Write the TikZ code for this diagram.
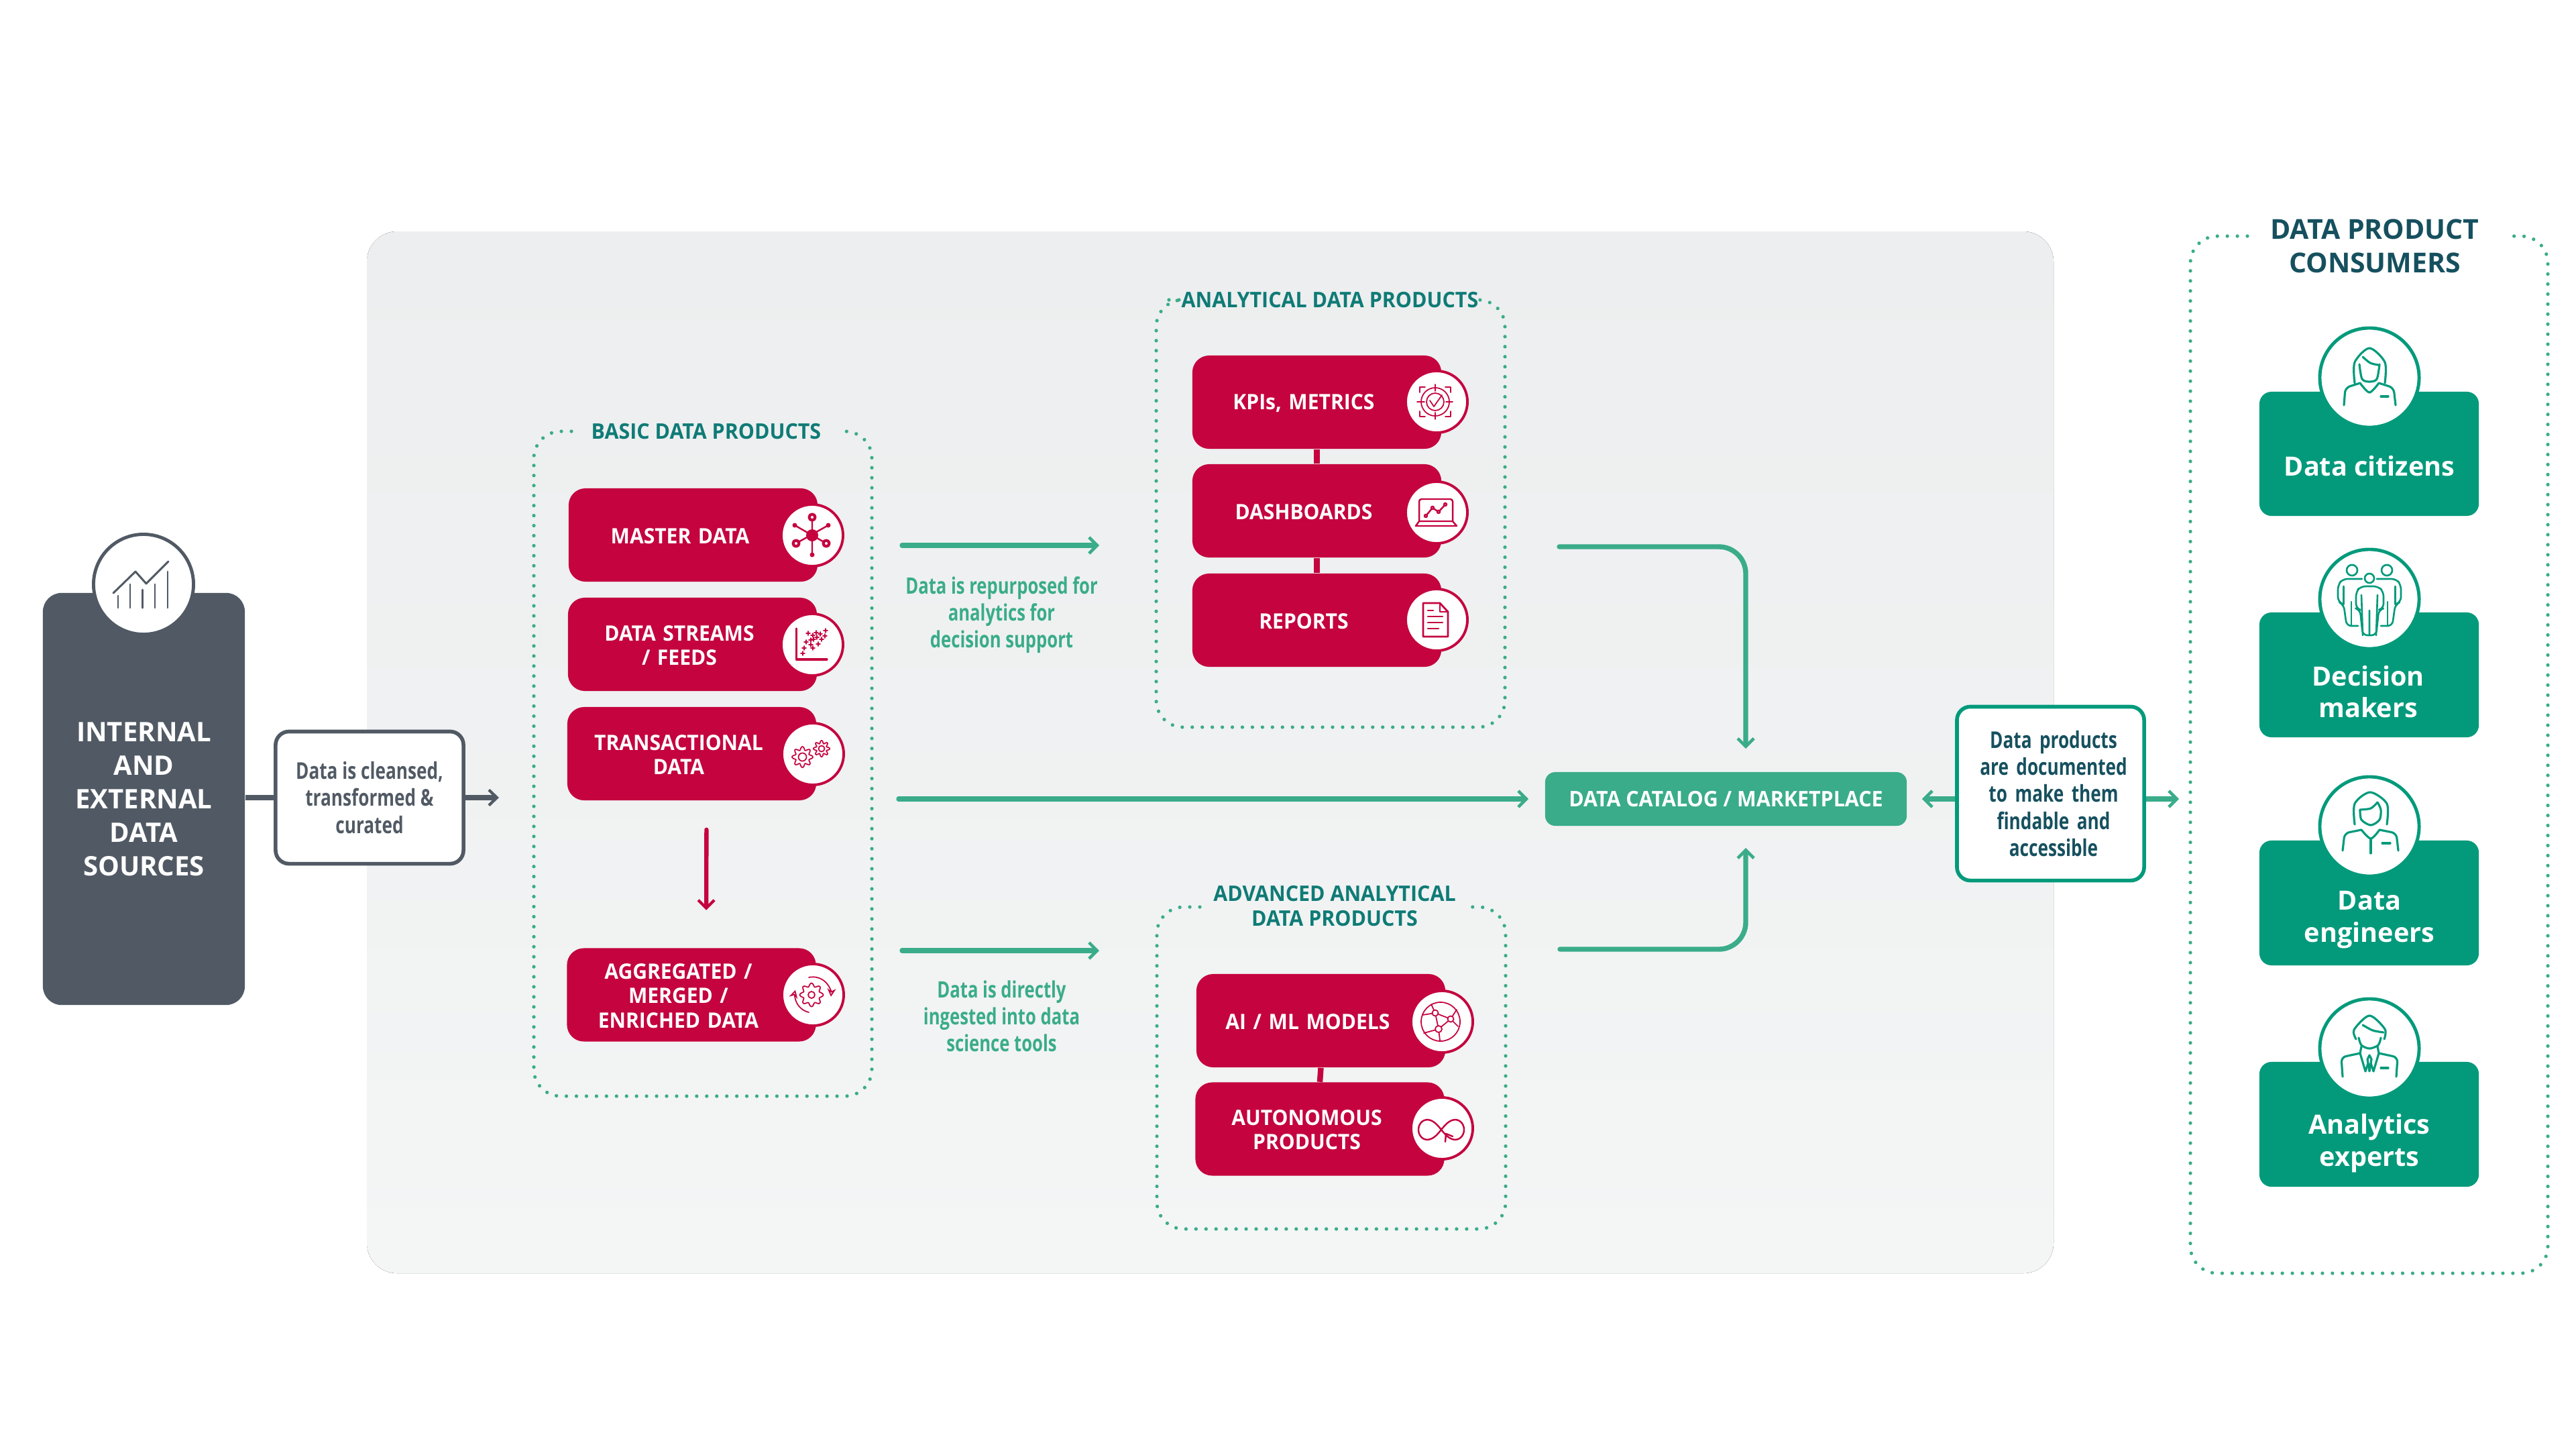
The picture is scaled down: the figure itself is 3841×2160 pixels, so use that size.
\documentclass[tikz,border=0pt]{standalone}
\usepackage{fontspec}
\setmainfont{Open Sans}
\newfontfamily\condfont{Open Sans}[FakeStretch=0.76]
\newfontfamily\capsfont{Open Sans}[FakeStretch=0.95]
\usetikzlibrary{arrows.meta, positioning, calc}

\definecolor{slategray}{HTML}{515A64}
\definecolor{productred}{HTML}{C4033F}
\definecolor{flowgreen}{HTML}{3AAC8A}
\definecolor{usergreen}{HTML}{029A7B}
\definecolor{titleteal}{HTML}{0F7B76}
\definecolor{deepteal}{HTML}{16505F}
\definecolor{panelgray}{HTML}{ECEEEF}
\definecolor{panellight}{HTML}{F4F5F5}

\tikzset{
  frameline/.style={draw=flowgreen, line width=1.5pt, line cap=round, dash pattern=on 0pt off 4.25pt, rounded corners=0.4cm},
  grouptitle/.style={text=titleteal, align=center, font=\capsfont\bfseries\fontsize{9.1}{10.5}\selectfont},
  productcard/.style={fill=productred, rounded corners=0.25cm, minimum height=1.39cm, text width=3.71cm, inner xsep=0pt, align=center, text=white,
    font=\capsfont\bfseries\fontsize{9}{10.3}\selectfont, execute at begin node={\advance\rightskip by 0.39cm\rule{0pt}{7.4pt}}},
  redbadge/.style={circle, draw=productred, fill=white, line width=1.1pt, minimum size=0.92cm, inner sep=0pt},
  userbadge/.style={circle, draw=usergreen, fill=white, line width=1.4pt, minimum size=1.48cm, inner sep=0pt},
  usercard/.style={fill=usergreen, rounded corners=0.18cm, minimum width=3.27cm},
  usertext/.style={text=white, align=center, font=\bfseries\fontsize{11.25}{13.5}\selectfont},
  notebox/.style={fill=white, line width=1.6pt, rounded corners=0.2cm, align=center, font=\condfont\bfseries\fontsize{9.8}{11.4}\selectfont},
  notetext/.style={text=flowgreen, align=center, font=\condfont\bfseries\fontsize{9.6}{11.4}\selectfont},
  flowarrow/.style={draw=flowgreen, line width=2.1pt, -{Straight Barb[length=0.12cm, width=0.24cm, line width=1.3pt]}},
  grayarrow/.style={draw=slategray, line width=2.1pt},
  redicon/.style={draw=productred, line width=0.7pt, line cap=round, line join=round},
  usericon/.style={draw=usergreen, line width=0.9pt, line cap=round, line join=round}
}

\begin{document}
\begin{tikzpicture}[x=0.01cm, y=-0.01cm]
  \useasboundingbox (0,0) rectangle (3841,2160);
  \fill[top color=panelgray, bottom color=panellight, rounded corners=0.45cm] (547,345) rectangle (3062,1898);

  % Group frames
  \draw[frameline] (852,643) -- (796,643) -- (796,1634) -- (1300,1634) -- (1300,643) -- (1248,643);
  \draw[frameline] (1743,447) -- (1724,447) -- (1724,1084) -- (2244,1084) -- (2244,447) -- (2213,447);
  \draw[frameline] (1789,1352) -- (1725,1352) -- (1725,1832) -- (2245,1832) -- (2245,1352) -- (2185,1352);
  \draw[frameline] (3351,352) -- (3266,352) -- (3266,1898) -- (3799,1898) -- (3799,352) -- (3739,352);
  \node[grouptitle] (basicTitle) at (1053,643) {BASIC DATA PRODUCTS};
  \node[grouptitle] (analyticalTitle) at (1983,447) {ANALYTICAL DATA PRODUCTS};
  \node[grouptitle] (advancedTitle) at (1990,1351) {ADVANCED ANALYTICAL\\DATA PRODUCTS};
  \node[text=deepteal, align=center, font=\bfseries\fontsize{11.65}{14.2}\selectfont] (consumerTitle) at (3541,367) {DATA PRODUCT\\CONSUMERS};

  % Sources
  \node[fill=slategray, rounded corners=0.28cm, minimum width=3.01cm, minimum height=6.14cm, text=white, align=center, font=\bfseries\fontsize{11.4}{14.2}\selectfont] (sources) at (214.5,1191) {INTERNAL\\AND\\EXTERNAL\\DATA\\SOURCES};
  \node[circle, draw=slategray, fill=white, line width=1.4pt, minimum size=1.49cm, inner sep=0pt] (sourcesBadge) at (214,871) {};
  \node[notebox, draw=slategray, text=slategray, minimum width=2.80cm, minimum height=1.97cm] (cleansed) at (551,1189) {Data is cleansed,\\transformed \&\\curated};
  \coordinate (cleansedOut) at (744,1189);
  \draw[grayarrow] (sources.east |- cleansed.west) -- (cleansed.west);
  \draw[grayarrow, -{Straight Barb[length=0.12cm, width=0.23cm, line width=1.2pt]}] (cleansed.east) -- (cleansedOut);

  % Product cards
  \node[productcard] (master) at (1033.5,797.5) {MASTER DATA};
  \node[productcard] (streams) at (1032.5,960.5) {DATA STREAMS\\/ FEEDS};
  \node[productcard] (transact) at (1031.5,1123.5) {TRANSACTIONAL\\DATA};
  \node[productcard] (aggregated) at (1031,1483) {AGGREGATED /\\MERGED /\\ENRICHED DATA};
  \draw[draw=productred, line width=1.8pt, line cap=round, shorten <=0.43cm, shorten >=0.56cm, -{Straight Barb[length=0.12cm, width=0.24cm, line width=1.2pt]}] ([xshift=0.22cm]transact.south) -- ([xshift=0.22cm]aggregated.north);

  \node[productcard] (kpi) at (1963.5,599.5) {KPIs, METRICS};
  \node[productcard] (dashboards) at (1963.5,761.5) {DASHBOARDS};
  \node[productcard] (reports) at (1963.5,924.5) {REPORTS};
  \node[productcard] (aimodels) at (1969.5,1521.5) {AI / ML MODELS};
  \node[productcard] (autonomous) at (1968,1683) {AUTONOMOUS\\PRODUCTS};
  \draw[draw=productred, line width=2.4pt] (kpi.south) -- (dashboards.north);
  \draw[draw=productred, line width=2.4pt] (dashboards.south) -- (reports.north);
  \draw[draw=productred, line width=2.4pt] (aimodels.south) -- (autonomous.north);

  \node[redbadge] (masterBadge) at (1211,798) {};
  \node[redbadge] (streamsBadge) at (1211,961) {};
  \node[redbadge] (transactBadge) at (1212,1124) {};
  \node[redbadge] (aggregatedBadge) at (1212,1483) {};
  \node[redbadge] (kpiBadge) at (2142,599) {};
  \node[redbadge] (dashboardsBadge) at (2142,764) {};
  \node[redbadge] (reportsBadge) at (2142,924) {};
  \node[redbadge] (aimodelsBadge) at (2150,1523) {};
  \node[redbadge] (autonomousBadge) at (2150,1682) {};

  % Catalog and flows
  \node[fill=flowgreen, rounded corners=0.15cm, minimum width=5.39cm, minimum height=0.80cm, text=white, font=\capsfont\bfseries\fontsize{9.1}{10.5}\selectfont] (catalog) at (2573.5,1191) {DATA CATALOG / MARKETPLACE};
  \node[notebox, draw=usergreen, text=deepteal, text width=2.79cm, inner xsep=0pt, minimum height=2.59cm, execute at begin node={\advance\leftskip by 0.09cm}] (documented) at (3057.5,1183) {Data products\\are documented\\to make them\\findable and\\accessible};
  \coordinate (repurposedFrom) at (1345,813);
  \coordinate (repurposedTo) at (1639,813);
  \coordinate (ingestedFrom) at (1345,1417);
  \coordinate (ingestedTo) at (1639,1417);
  \coordinate (mainFrom) at (1340,1191);
  \coordinate (analyticalFrom) at (2325,815);
  \coordinate (catalogAbove) at (2603,1116);
  \coordinate (advancedFrom) at (2326,1415);
  \coordinate (catalogBelow) at (2603,1264);
  \coordinate (consumersIn) at (3249,1191);
  \draw[flowarrow, line cap=round] (repurposedFrom) -- (repurposedTo);
  \draw[flowarrow, line cap=round] (ingestedFrom) -- (ingestedTo);
  \draw[flowarrow, line cap=round, shorten >=0.24cm] (mainFrom) -- (catalog.west);
  \draw[flowarrow, line cap=round, rounded corners=0.4cm] (analyticalFrom) -| (catalogAbove);
  \draw[flowarrow, line cap=round, rounded corners=0.4cm] (advancedFrom) -| (catalogBelow);
  \draw[flowarrow, line width=2.4pt, shorten >=0.22cm] (documented.west |- catalog.east) -- (catalog.east);
  \draw[flowarrow, line width=2.4pt] (documented.east |- catalog.east) -- (consumersIn);
  \node[notetext] (repurposedNote) at (1493.5,917) {Data is repurposed for\\analytics for\\decision support};
  \node[notetext] (ingestedNote) at (1493.5,1515) {Data is directly\\ingested into data\\science tools};

  % Consumers
  \node[usercard, minimum height=1.85cm] (citizens) at (3532.5,676.5) {};
  \node[usercard, minimum height=1.86cm] (makers) at (3532.5,1006) {};
  \node[usercard, minimum height=1.86cm] (engineers) at (3532.5,1346) {};
  \node[usercard, minimum height=1.86cm] (experts) at (3532.5,1676) {};
  \node[userbadge] (citizensBadge) at (3533,563) {};
  \node[userbadge] (makersBadge) at (3533,893) {};
  \node[userbadge] (engineersBadge) at (3533,1232) {};
  \node[userbadge] (expertsBadge) at (3533,1563) {};
  \node[usertext] (citizensText) at (3533,695) {Data citizens};
  \node[usertext] (makersText) at (3531,1031) {Decision\\makers};
  \node[usertext] (engineersText) at (3533,1371) {Data\\engineers};
  \node[usertext] (expertsText) at (3533,1704) {Analytics\\experts};

  % Icons
  \begin{scope}[shift={(214,871)}, draw=slategray, line width=0.85pt, line cap=round, line join=round]
    \draw (-45,13) -- (-12,-19) -- (4,-1) -- (37,-34);
    \draw (-38,35) -- (-38,17) (-20,35) -- (-20,0) (-1.5,35) -- (-1.5,8) (17,35) -- (17,0) (36,35) -- (36,-19);
  \end{scope}

  \begin{scope}[shift={(1211,798)}, redicon]
    \draw (0,-27) -- (0,29) (-26,-15) -- (21,12) (24,-15) -- (-24,12);
    \fill[productred] (0,0) circle (9) (-26,-15) circle (3.5) (24,-15) circle (3.5) (0,29) circle (3.5);
    \draw[fill=white, line width=1.2pt] (0,-27) circle (4.5) (-24,12) circle (4.5) (21,12) circle (4.5);
  \end{scope}
  \begin{scope}[shift={(1211,961)}, redicon]
    \draw[line width=0.9pt] (-23.5,-24) -- (-23.5,22) -- (22,22);
    \draw[line width=0.3pt] plot[only marks, mark=+, mark size=0.9pt] coordinates {(20,-21) (6,-18) (-6,-17) (12,-16) (1,-14) (19,-13) (7,-11) (2,-8) (-2,-7) (14,-8) (-9,-4) (-2,0) (9,-1) (-12,5) (1,5) (-14,13)};
  \end{scope}
  \begin{scope}[shift={(1212,1124)}, redicon, line width=0.5pt]
    \draw[domain=0:360, samples=97, smooth] plot ({-15.5+(13+2.5*cos(8*\x))*cos(\x)}, {4.5+(13+2.5*cos(8*\x))*sin(\x)});
    \draw[domain=0:360, samples=97, smooth] plot ({13+(10+2.2*cos(8*\x))*cos(\x)}, {-8+(10+2.2*cos(8*\x))*sin(\x)});
    \draw (-15.5,4.5) circle (6) (13,-8) circle (4.5);
  \end{scope}
  \begin{scope}[shift={(1212,1483)}, redicon, line width=0.5pt]
    \draw[domain=0:360, samples=97, smooth] plot ({-2+(15+2.5*cos(8*\x))*cos(\x)}, {(15+2.5*cos(8*\x))*sin(\x)});
    \draw (-2,0) circle (5);
    \draw[-{Stealth[open, length=0.12cm, width=0.13cm]}] (-6,26) arc[start angle=103, end angle=195, radius=27];
    \draw[-{Stealth[open, length=0.12cm, width=0.13cm]}] (-6,-26) arc[start angle=-103, end angle=5, radius=27];
  \end{scope}
  \begin{scope}[shift={(2140,599)}, redicon, line width=0.5pt]
    \draw (0,0) circle (21) (0,0) circle (13);
    \draw (-8,-2) -- (-2,7) -- (10,-10);
    \draw (0,-26) -- (0,-16) (0,16) -- (0,26) (-27,0) -- (-16,0) (16,0) -- (26,0);
    \draw (-23,-14) -- (-23,-22) -- (-15,-22) (15,-22) -- (23,-22) -- (23,-14);
    \draw (23,14) -- (23,22) -- (15,22) (-15,22) -- (-23,22) -- (-23,14);
  \end{scope}
  \begin{scope}[shift={(2142,764)}, redicon]
    \draw[rounded corners=1pt] (-26,13) -- (-26,-20) -- (24,-20) -- (24,13);
    \draw (-26,13) -- (-31,20) -- (30,20) -- (24,13) -- cycle;
    \draw (-16,5) -- (-6,-7) -- (3,-1) -- (13,-12);
    \draw[fill=white] (-16,5) circle (2) (-6,-7) circle (2) (3,-1) circle (2) (13,-12) circle (2);
  \end{scope}
  \begin{scope}[shift={(2142,924)}, redicon, line width=0.8pt]
    \draw (5,-25) -- (-20,-25) -- (-20,25) -- (17,25) -- (17,-12) -- cycle;
    \draw (5,-25) -- (5,-12) -- (17,-12);
    \draw (-13,-14) -- (-5,-14) (-13,-5) -- (9,-5) (-13,4) -- (9,4) (-13,13) -- (3,13);
  \end{scope}
  \begin{scope}[shift={(2150,1523)}, redicon, line width=0.5pt]
    \draw (-2,0) circle (29);
    \draw (-10,-13) -- (13,-4) -- (-5,11) -- cycle;
    \draw (-10,-13) -- (-16,-26) (-10,-13) -- (-29,-10) (13,-4) -- (22,-18) (13,-4) -- (24,7) (-5,11) -- (-27,17) (-5,11) -- (-3,28);
    \draw[fill=white] (-10,-13) circle (4.5) (13,-4) circle (4.5) (-5,11) circle (5);
  \end{scope}
  \begin{scope}[shift={(2150,1682)}, redicon]
    \draw[domain=0:360, samples=73, smooth] plot ({-1+34*cos(\x)/(1+sin(\x)*sin(\x))}, {2+42*sin(\x)*cos(\x)/(1+sin(\x)*sin(\x))});
    \draw (5,20) -- (6,8) -- (16,12);
  \end{scope}

  \begin{scope}[shift={(3533,563)}, usericon]
    \draw plot[smooth] coordinates {(-22,8) (-22,-23) (0,-44) (23,-23) (23,8)};
    \draw plot[smooth] coordinates {(-15,-20) (-11,2) (0,6) (11,2) (15,-20)};
    \draw plot[smooth] coordinates {(-10,-31) (1,-22) (13,-19)};
    \draw plot[smooth] coordinates {(-14,8) (0,22) (14,8)};
    \draw[rounded corners=2pt] (-38,41) -- (-36,15) -- (-14,8) (14,8) -- (36,15) -- (39,41);
    \draw (17,28) -- (28,28);
  \end{scope}
  \begin{scope}[shift={(3533,893)}, usericon, line width=0.75pt]
    \draw (0,-31) circle (7) (-26,-43) circle (8) (26,-43) circle (8);
    \draw[rounded corners=2pt] (-11,-30) -- (-40,-30) -- (-47,-21) -- (-47,4) -- (-38.5,8) -- (-34,40) -- (-17,40);
    \draw (-38.5,-19) -- (-38.5,8) (-27,4) -- (-27,40);
    \draw[rounded corners=2pt] (11,-30) -- (40,-30) -- (47,-21) -- (47,4) -- (38.5,8) -- (34,40) -- (17,40);
    \draw (38.5,-19) -- (38.5,8) (27,4) -- (27,40);
    \draw[fill=white, rounded corners=2pt] (-13,-19) -- (13,-19) -- (21,-11) -- (21,14) -- (14,16) -- (10,54) -- (-10,54) -- (-14,16) -- (-20,14) -- (-20,-11) -- cycle;
    \draw (-12,-6) -- (-10,54) (12,-6) -- (10,54) (0,17) -- (0,54);
  \end{scope}
  \begin{scope}[shift={(3533,1232)}, usericon]
    \draw plot[smooth] coordinates {(-22,-3) (-22,-34) (1,-51) (26,-34) (26,-3)};
    \draw plot[smooth] coordinates {(-14,-25) (-12,-10) (2,-2) (15,-10) (17,-25) (12,-36)};
    \draw plot[smooth] coordinates {(-14,-25) (2,-27) (12,-36)};
    \draw[rounded corners=2pt] (-40,36) -- (-37,10) -- (-12,5);
    \draw plot[smooth] coordinates {(-12,5) (2,18) (15,5)};
    \draw[rounded corners=2pt] (15,5) -- (40,10) -- (43,36);
    \draw (2,18) -- (2,40) (19,25) -- (31,25);
  \end{scope}
  \begin{scope}[shift={(3533,1563)}, usericon]
    \draw plot[smooth] coordinates {(-20,-14) (-23,-28) (0,-49) (23,-29) (22,-14)};
    \draw plot[smooth] coordinates {(-16,-16) (-12,-5) (0,0) (13,-5) (17,-16)};
    \draw plot[smooth] coordinates {(-10,-35) (5,-27) (21,-24)};
    \draw[rounded corners=2pt] (-40,42) -- (-42,13) -- (-14,7) (14,7) -- (42,13) -- (40,42);
    \draw (-12,-3) -- (-14,7) -- (-6,34) -- (-2,22) (12,-3) -- (14,7) -- (6,34) -- (2,22);
    \draw (0,10) -- (-3,16) -- (0,34) -- (3,16) -- cycle;
    \draw (17,29) -- (28,29);
  \end{scope}
\end{tikzpicture}
\end{document}
